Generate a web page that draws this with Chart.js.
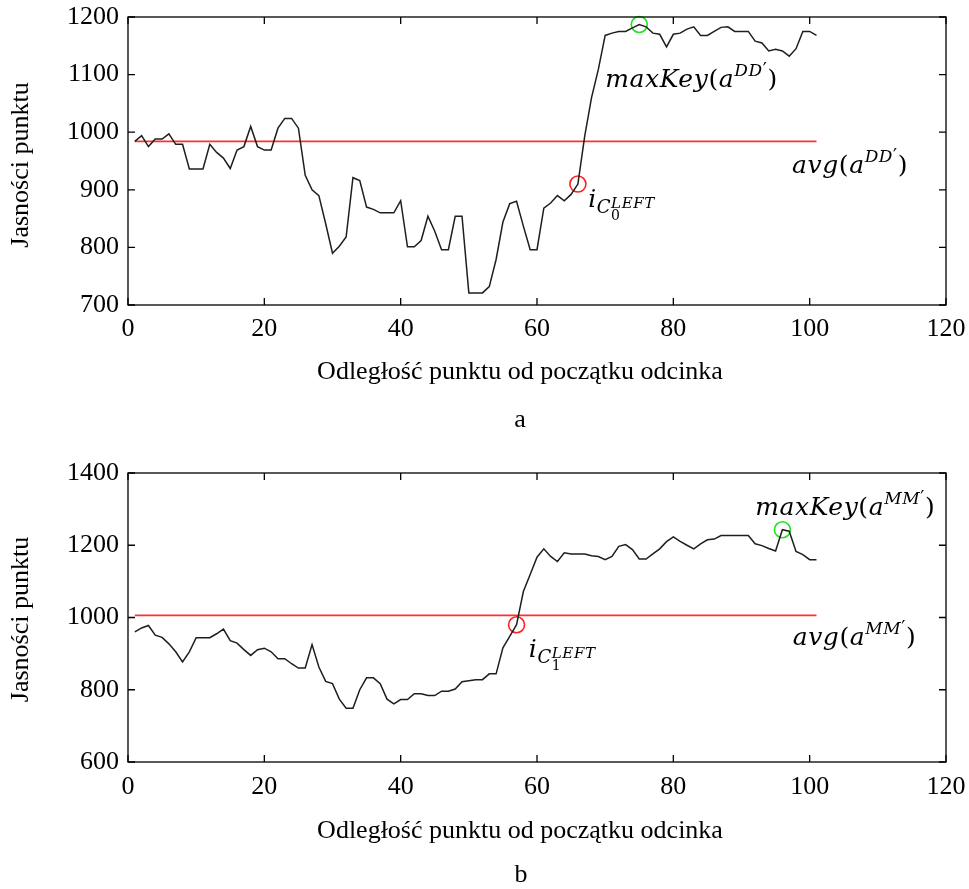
<!DOCTYPE html>
<html>
<head>
<meta charset="utf-8">
<script src="https://cdn.jsdelivr.net/npm/chart.js@4.4.1/dist/chart.umd.min.js"></script>
<style>
  html, body { margin: 0; padding: 0; background: #fff; }
  #wrap { position: relative; width: 969px; height: 889px; }
  canvas { position: absolute; left: 0; }
</style>
</head>
<body>
<div id="wrap">
  <canvas id="chartA" width="969" height="444" style="top:0"></canvas>
  <canvas id="chartB" width="969" height="445" style="top:444px"></canvas>
</div>
<script>
// Point index along the segment (1..101)
const positions = Array.from({ length: 101 }, (_, i) => i + 1);

// Brightness profile, panel a
const brightnessA = [
  984, 994, 975, 988, 988, 997, 979, 979, 936, 936,
  936, 979, 965, 955, 937, 969, 975, 1010, 975, 969,
  969, 1007, 1024, 1024, 1007, 925, 900, 890, 841, 790,
  802, 818, 921, 916, 870, 866, 860, 860, 860, 881,
  801, 801, 812, 854, 828, 796, 796, 854, 854, 721,
  721, 721, 732, 779, 844, 876, 880, 837, 796, 796,
  868, 877, 890, 881, 892, 910, 993, 1060, 1109, 1168,
  1172, 1175, 1175, 1181, 1187, 1183, 1172, 1170, 1148, 1170,
  1172, 1179, 1183, 1168, 1168, 1175, 1182, 1183, 1175, 1175,
  1175, 1158, 1155, 1141, 1144, 1141, 1132, 1145, 1175, 1175,
  1168
];

// Brightness profile, panel b
const brightnessB = [
  960, 971, 978, 951, 945, 927, 905, 877, 905, 944,
  944, 944, 955, 968, 936, 929, 911, 895, 911, 915,
  905, 886, 886, 872, 860, 860, 925, 863, 823, 817,
  774, 749, 749, 800, 833, 833, 817, 774, 761, 773,
  773, 789, 789, 784, 784, 796, 796, 802, 822, 825,
  828, 828, 844, 844, 916, 948, 980, 1072, 1119, 1167,
  1190, 1169, 1155, 1179, 1176, 1176, 1176, 1171, 1169, 1160,
  1169, 1197, 1202, 1188, 1162, 1162, 1176, 1190, 1210, 1223,
  1211, 1200, 1190, 1204, 1215, 1217, 1227, 1227, 1227, 1227,
  1227, 1204, 1199, 1191, 1184, 1243, 1239, 1183, 1174, 1160,
  1160
];

// Mean brightness of each profile
const averageA = 984;
const averageB = 1006;

// Marked points: left boundary index and key maximum
const leftIndexA = 66, maxIndexA = 75;
const leftIndexB = 57, maxIndexB = 96;

// Axis tick settings
const xTicks = { min: 0, max: 120, step: 20 };
const yTicksA = { min: 700, max: 1200, step: 100 };
const yTicksB = { min: 600, max: 1400, step: 200 };

const xTitle = 'Odległość punktu od początku odcinka';
const yTitle = 'Jasności punktu';

const SERIF = '"Liberation Serif", "Times New Roman", serif';
const MATH = '"DejaVu Serif", serif';

// Formula pieces: t = text, it = italic, s = size, dy = baseline shift, back = start at previous piece
function maxKeyParts(sup) {
  return [
    { t: 'maxKey', it: true, s: 25 },
    { t: '(', s: 25 },
    { t: 'a', it: true, s: 25 },
    { t: sup, it: true, s: 17, dy: -11 },
    { t: '′', s: 18, dy: -11 },
    { t: ')', s: 25 }
  ];
}
function avgParts(sup) {
  return [
    { t: 'avg', it: true, s: 25 },
    { t: '(', s: 25 },
    { t: 'a', it: true, s: 25 },
    { t: sup, it: true, s: 17, dy: -11 },
    { t: '′', s: 18, dy: -11 },
    { t: ')', s: 25 }
  ];
}
function leftParts(sub) {
  return [
    { t: 'i', it: true, s: 25 },
    { t: 'C', it: true, s: 18, dy: 6 },
    { t: sub, s: 14, dy: 13 },
    { t: 'LEFT', it: true, s: 15, dy: 1, back: true }
  ];
}

function drawParts(ctx, x0, y0, parts) {
  let x = x0, lastStart = x0;
  ctx.textAlign = 'left';
  ctx.textBaseline = 'alphabetic';
  ctx.fillStyle = '#000';
  ctx.letterSpacing = '0.6px';
  parts.forEach(p => {
    ctx.font = (p.it ? 'italic ' : '') + p.s + 'px ' + MATH;
    const start = p.back ? lastStart : x;
    ctx.fillText(p.t, start, y0 + (p.dy || 0));
    const w = ctx.measureText(p.t).width;
    if (p.back) {
      x = Math.max(x, start + w);
    } else {
      lastStart = start;
      x = start + w;
    }
  });
  ctx.letterSpacing = '0px';
}

// Frame with inward ticks on all four sides, axis titles, caption and formula notes
const framePlugin = {
  id: 'frame',
  afterDatasetsDraw(chart, args, opts) {
    const { ctx, chartArea: a, scales: { x, y } } = chart;
    ctx.save();
    ctx.strokeStyle = '#000';
    ctx.lineWidth = 1.3;
    ctx.strokeRect(a.left, a.top, a.right - a.left, a.bottom - a.top);
    const t = 7;
    ctx.beginPath();
    x.ticks.forEach(tk => {
      const px = x.getPixelForValue(tk.value);
      ctx.moveTo(px, a.bottom); ctx.lineTo(px, a.bottom - t);
      ctx.moveTo(px, a.top); ctx.lineTo(px, a.top + t);
    });
    y.ticks.forEach(tk => {
      const py = y.getPixelForValue(tk.value);
      ctx.moveTo(a.left, py); ctx.lineTo(a.left + t, py);
      ctx.moveTo(a.right, py); ctx.lineTo(a.right - t, py);
    });
    ctx.stroke();

    ctx.fillStyle = '#000';
    ctx.font = '26px ' + SERIF;
    ctx.textAlign = 'center';
    ctx.textBaseline = 'alphabetic';
    ctx.fillText(xTitle, opts.xTitleX, opts.xTitleY);
    ctx.fillText(opts.caption, opts.captionX, opts.captionY);

    ctx.save();
    ctx.translate(opts.yTitleX, (a.top + a.bottom) / 2 + opts.yTitleShift);
    ctx.rotate(-Math.PI / 2);
    ctx.fillText(yTitle, 0, 0);
    ctx.restore();

    opts.notes.forEach(n => {
      drawParts(ctx, x.getPixelForValue(n.x), y.getPixelForValue(n.y), n.parts);
    });
    ctx.restore();
  }
};

function makeChart(id, values, average, leftIdx, maxIdx, yT, padTop, notes, caption, layout) {
  const series = positions.map((p, i) => ({ x: p, y: values[i] }));
  const avgLine = [
    { x: positions[0], y: average },
    { x: positions[positions.length - 1], y: average }
  ];
  const leftPt = [{ x: leftIdx, y: values[leftIdx - 1] }];
  const maxPt = [{ x: maxIdx, y: values[maxIdx - 1] }];
  return new Chart(document.getElementById(id), {
    type: 'line',
    data: {
      datasets: [
        { data: series, borderColor: '#1e1e1e', borderWidth: 1.5, pointRadius: 0, tension: 0 },
        { data: avgLine, borderColor: '#ff3030', borderWidth: 1.6, pointRadius: 0 },
        { data: leftPt, showLine: false, pointRadius: 8, pointStyle: 'circle', borderColor: '#ff2020', borderWidth: 1.6, backgroundColor: 'rgba(0,0,0,0)', clip: false },
        { data: maxPt, showLine: false, pointRadius: 8, pointStyle: 'circle', borderColor: '#22e022', borderWidth: 1.6, backgroundColor: 'rgba(0,0,0,0)', clip: false }
      ]
    },
    options: {
      responsive: false,
      animation: false,
      events: [],
      layout: { padding: { left: 0, right: 23, top: padTop, bottom: 0 } },
      plugins: {
        legend: { display: false },
        tooltip: { enabled: false },
        frame: Object.assign({ notes, caption }, layout)
      },
      scales: {
        x: {
          type: 'linear',
          min: xTicks.min, max: xTicks.max,
          grid: { display: false, drawTicks: false },
          border: { display: false },
          ticks: { stepSize: xTicks.step, color: '#000', padding: layout.xPad, font: { family: SERIF, size: 26 }, maxRotation: 0, callback: v => String(v) },
          afterFit: s => { s.height = layout.xAxisHeight; s.paddingLeft = 0; s.paddingRight = 0; }
        },
        y: {
          min: yT.min, max: yT.max,
          grid: { display: false, drawTicks: false },
          border: { display: false },
          ticks: { stepSize: yT.step, color: '#000', padding: 9, font: { family: SERIF, size: 26 }, callback: v => String(v) },
          afterFit: s => { s.width = 128; s.paddingTop = 0; s.paddingBottom = 0; }
        }
      }
    },
    plugins: [framePlugin]
  });
}

makeChart('chartA', brightnessA, averageA, leftIndexA, maxIndexA, yTicksA, 17, [
  { x: 70, y: 1079, parts: maxKeyParts('DD') },
  { x: 97.4, y: 930, parts: avgParts('DD') },
  { x: 67.5, y: 871, parts: leftParts('0') }
], 'a', {
  xAxisHeight: 139, xPad: 9,
  xTitleX: 520, xTitleY: 379,
  captionX: 520, captionY: 427,
  yTitleX: 27.5, yTitleShift: 4
});

makeChart('chartB', brightnessB, averageB, leftIndexB, maxIndexB, yTicksB, 29, [
  { x: 92, y: 1285, parts: maxKeyParts('MM') },
  { x: 97.5, y: 925, parts: avgParts('MM') },
  { x: 58.8, y: 892, parts: leftParts('1') }
], 'b', {
  xAxisHeight: 127, xPad: 10,
  xTitleX: 520, xTitleY: 394,
  captionX: 521, captionY: 438,
  yTitleX: 27.5, yTitleShift: 2
});
</script>
</body>
</html>
